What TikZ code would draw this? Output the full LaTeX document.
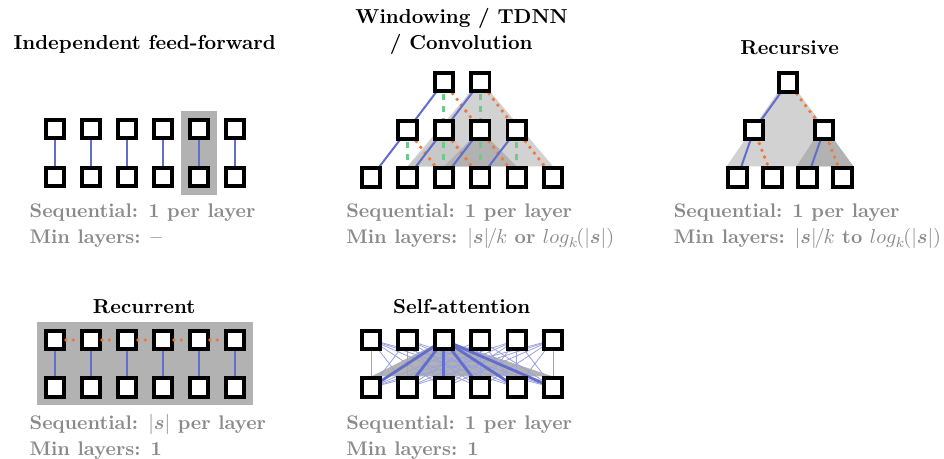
\documentclass[tikz,border=0pt]{standalone}
\usepackage{amsmath}
\usepackage{tikz}
\usetikzlibrary{fit,backgrounds}
\definecolor{linkblue}{RGB}{98,110,204}
\definecolor{linkorange}{RGB}{238,122,58}
\definecolor{linkgreen}{RGB}{112,200,140}
\definecolor{infogray}{RGB}{138,138,138}
\newcommand{\seqlen}{|\boldsymbol{s}|}

\begin{document}
\begin{tikzpicture}[x=0.495pt,y=-0.495pt,
    cellbox/.style={draw,line width=1.8pt,fill=white,minimum size=9.1pt,inner sep=0pt},
    bluelink/.style={linkblue,line width=1pt},
    greenlink/.style={linkgreen,line width=1.5pt,dash pattern=on 3pt off 3pt},
    orangelink/.style={linkorange,line width=1.9pt,line cap=round,dash pattern=on 0pt off 3.6pt},
    thinlink/.style={linkblue!65,line width=0.4pt},
    paneltitle/.style={font=\bfseries,anchor=base,inner sep=0pt},
    infotext/.style={font=\fontsize{9.75}{12}\selectfont\bfseries,text=infogray,anchor=base west,inner sep=0pt}]
    \useasboundingbox (0,0) rectangle (944,459);

    % Independent feed-forward
    \node[paneltitle] (fftitle) at (144.7,50) {Independent feed-forward};
    \foreach \i in {1,...,6} {
        \node[cellbox] (ft\i) at (19+36*\i,129) {};
        \node[cellbox] (fb\i) at (19+36*\i,177) {};
        \draw[bluelink] (ft\i) -- (fb\i);
    }
    \begin{scope}[on background layer]
        \node[fit=(ft5)(fb5),fill=gray!60,inner sep=3.3pt] (ffmark) {};
    \end{scope}
    \node[infotext] (ffseq) at (29.3,218) {Sequential: 1 per layer};
    \node[infotext] (ffmin) at (29.3,244) {Min layers: --};

    % Windowing / TDNN / Convolution
    \node[paneltitle] (cvtitle) at (461.7,23.3) {Windowing / TDNN};
    \node[paneltitle] (cvtitleb) at (461.2,49.3) {/ Convolution};
    \foreach \i in {1,...,6}
        \node[cellbox] (cb\i) at (334.7+36.4*\i,177.5) {};
    \foreach \i in {2,...,5}
        \node[cellbox] (cm\i) at (334.7+36.4*\i,130) {};
    \foreach \i in {3,4}
        \node[cellbox] (ct\i) at (334.7+36.4*\i,82) {};
    \begin{scope}[on background layer]
        % receptive fields
        \fill[gray!35] (ct4.south west) -- (cb2.north) -- (cb6.north) -- (ct4.south east) -- cycle;
        \fill[gray!43] (cm3.south west) -- (cb2.north) -- (cb4.north) -- (cm3.south east) -- cycle;
        \fill[gray!60] (cm4.south west) -- (cb3.north) -- (cb5.north) -- (cm4.south east) -- cycle;
        % connections
        \foreach \i/\l/\r in {3/2/4,4/3/5} {
            \draw[bluelink] (ct\i.center) -- (cm\l.center);
            \draw[greenlink] (ct\i.center) -- (cm\i.center);
            \draw[orangelink] (ct\i.center) -- (cm\r.center);
        }
        \foreach \i/\l/\r in {2/1/3,3/2/4,4/3/5,5/4/6} {
            \draw[bluelink] (cm\i.center) -- (cb\l.center);
            \draw[greenlink] (cm\i.center) -- (cb\i.center);
            \draw[orangelink] (cm\i.center) -- (cb\r.center);
        }
    \end{scope}
    \node[infotext] (cvseq) at (346,218) {Sequential: 1 per layer};
    \node[infotext] (cvmin) at (346,244) {Min layers: $\seqlen\mkern-2mu/\mkern-1mu k$ or $log_k\mkern-2mu(\seqlen)$};

    % Recursive
    \node[paneltitle] (rctitle) at (789.7,55) {Recursive};
    \node[cellbox] (rt) at (788,82.5) {};
    \node[cellbox] (rm1) at (754,130) {};
    \node[cellbox] (rm2) at (824,130) {};
    \foreach \i in {1,...,4}
        \node[cellbox] (rb\i) at (702.5+35*\i,177.5) {};
    \begin{scope}[on background layer]
        \fill[gray!35] (rt.south west) -- (rb1.north west) -- (rb4.north east) -- (rt.south east) -- cycle;
        \fill[gray!60] (rm2.south west) -- (rb3.north west) -- (rb4.north east) -- (rm2.south east) -- cycle;
        \draw[bluelink] (rt.center) -- (rm1.center);
        \draw[orangelink] (rt.center) -- (rm2.center);
        \draw[bluelink] (rm1.center) -- (rb1.center);
        \draw[orangelink] (rm1.center) -- (rb2.center);
        \draw[bluelink] (rm2.center) -- (rb3.center);
        \draw[orangelink] (rm2.center) -- (rb4.center);
    \end{scope}
    \node[infotext] (rcseq) at (673.5,218) {Sequential: 1 per layer};
    \node[infotext] (rcmin) at (673.5,244) {Min layers: $\seqlen\mkern-2mu/\mkern-1mu k$ to $log_k\mkern-2mu(\seqlen)$};

    % Recurrent
    \node[paneltitle] (rntitle) at (144.2,313.3) {Recurrent};
    \foreach \i in {1,...,6} {
        \node[cellbox] (nt\i) at (19+36*\i,340) {};
        \node[cellbox] (nb\i) at (19+36*\i,387.5) {};
        \draw[bluelink] (nt\i) -- (nb\i);
    }
    \foreach \i/\j in {1/2,2/3,3/4,4/5,5/6}
        \draw[orangelink] (nt\i) -- (nt\j);
    \begin{scope}[on background layer]
        \node[fit=(nt1)(nb6),fill=gray!60,inner sep=3.3pt] (rnmark) {};
    \end{scope}
    \node[infotext] (rnseq) at (29.3,430) {Sequential: $\seqlen$ per layer};
    \node[infotext] (rnmin) at (29.3,456) {Min layers: 1};

    % Self-attention
    \node[paneltitle] (satitle) at (461.7,313.3) {Self-attention};
    \foreach \i in {1,...,6} {
        \node[cellbox] (st\i) at (334.7+36.4*\i,340) {};
        \node[cellbox] (sb\i) at (334.7+36.4*\i,387.5) {};
    }
    \begin{scope}[on background layer]
        \fill[gray!60] (st3.center) -- (sb1.north) -- (sb6.north) -- cycle;
        \foreach \i in {1,2,4,5,6}
            \foreach \j in {1,...,6}
                \draw[thinlink] (st\i.center) -- (sb\j.center);
        \foreach \j in {1,...,6}
            \draw[bluelink,line width=1.4pt] (st3.center) -- (sb\j.center);
    \end{scope}
    \node[infotext] (saseq) at (346,430) {Sequential: 1 per layer};
    \node[infotext] (samin) at (346,456) {Min layers: 1};
\end{tikzpicture}
\end{document}
